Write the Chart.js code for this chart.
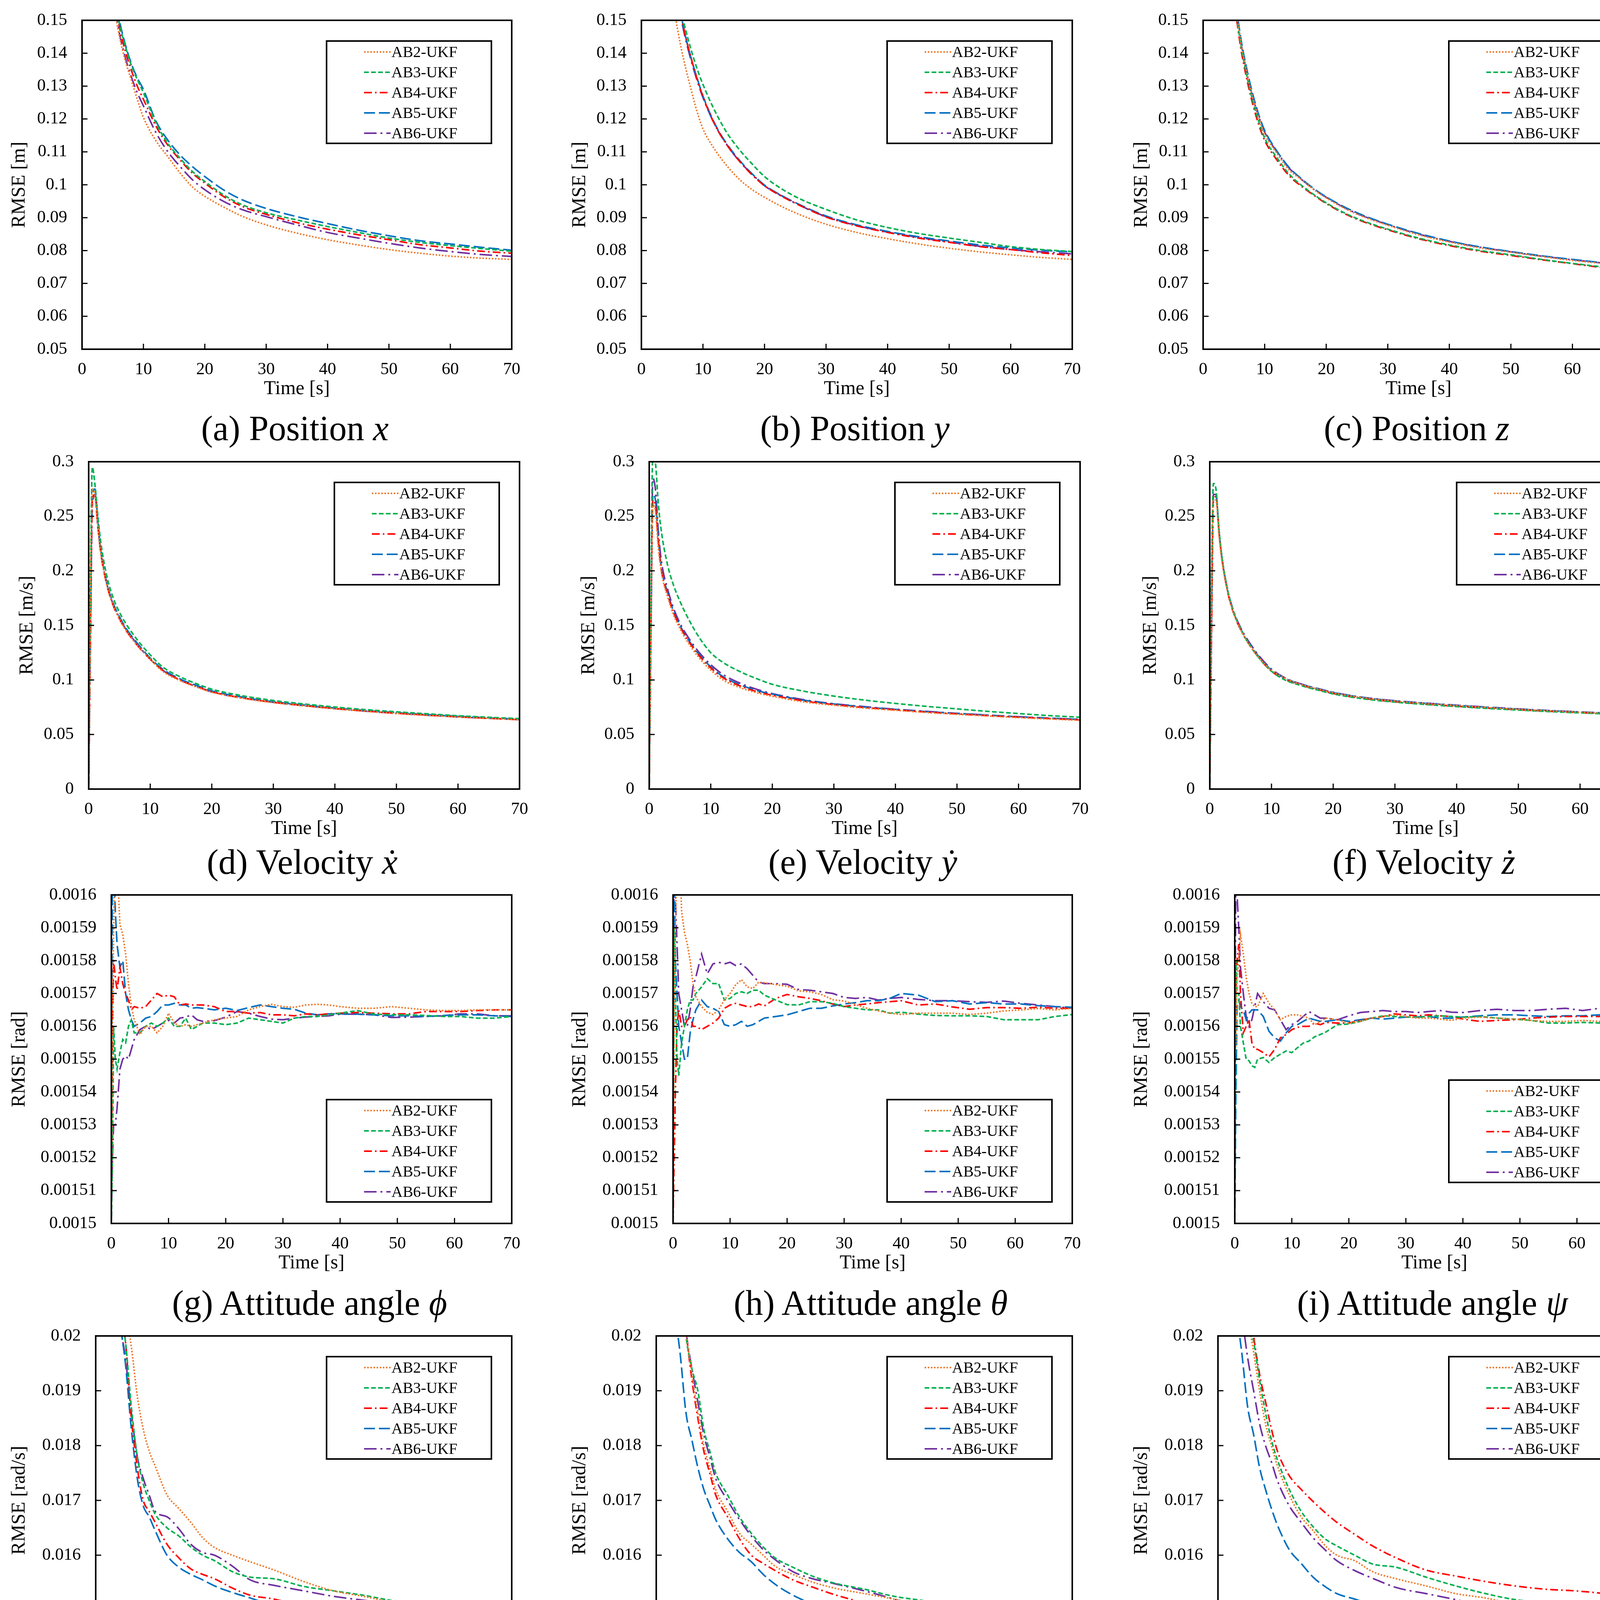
<!DOCTYPE html>
<html>
<head>
<meta charset="utf-8">
<script src="https://cdn.jsdelivr.net/npm/chart.js@4.4.0/dist/chart.umd.min.js"></script>
<style>
  html, body { margin: 0; padding: 0; background: #fff; }
  body { width: 4250px; height: 4571px; position: relative; overflow: hidden; }
  .panel { position: absolute; }
  .cap { position: absolute; font-family: 'Liberation Serif', serif; font-size: 90px; color: #000;
         white-space: nowrap; transform: translate(-50%, -50%); line-height: 1; }
</style>
</head>
<body>
<script>
// ---- time axes ----
const tPos  = [4, 5, 6, 7, 8, 9, 10, 12, 14, 16, 18, 20, 23, 26, 30, 35, 40, 45, 50, 55, 60, 65, 70];
const tVel  = [0, 0.3, 0.6, 1, 1.5, 2, 3, 4, 5, 6, 8, 10, 12, 15, 18, 20, 25, 30, 35, 40, 45, 50, 55, 60, 65, 70];
const tAtt  = [0, 0.2, 0.4, 0.7, 1, 1.5, 2, 2.5, 3, 3.5, 4, 5, 6, 7, 8, 9, 10, 11, 12, 13, 14, 15, 16,
               18, 20, 22, 24, 26, 28, 30, 32, 34, 36, 38, 40, 43, 46, 49, 52, 55, 58, 61, 64, 67, 70];
const tRate = [3, 4, 5, 6, 7, 8, 9, 10, 12, 14, 16, 18, 20, 23, 26, 30, 35, 40, 45, 50, 55, 60, 65, 70];

const xTicks = [0, 10, 20, 30, 40, 50, 60, 70];

// ---- (a) position x ----
const posX_AB2 = [0.175,0.157,0.146,0.138,0.132,0.126,0.1205,0.1135,0.1085,0.1035,0.0993,0.0965,0.0933,0.0905,0.0878,0.0853,0.0833,0.0817,0.0803,0.0792,0.0783,0.0777,0.0773];
const posX_AB3 = [0.184,0.164,0.150,0.1425,0.1365,0.132,0.128,0.119,0.1125,0.108,0.104,0.101,0.097,0.094,0.0915,0.0893,0.0873,0.0855,0.0838,0.0825,0.0815,0.0806,0.0798];
const posX_AB4 = [0.182,0.162,0.149,0.141,0.135,0.130,0.126,0.118,0.112,0.1075,0.1035,0.1005,0.0965,0.0935,0.091,0.0885,0.0865,0.0848,0.0833,0.0818,0.0808,0.0798,0.0792];
const posX_AB5 = [0.185,0.165,0.151,0.143,0.137,0.1325,0.129,0.1195,0.1135,0.109,0.1055,0.1025,0.0985,0.0955,0.0928,0.0903,0.0882,0.0862,0.0845,0.083,0.082,0.081,0.0801];
const posX_AB6 = [0.18,0.16,0.147,0.139,0.133,0.128,0.124,0.116,0.110,0.1055,0.1015,0.0985,0.095,0.0925,0.0903,0.0878,0.0855,0.0838,0.0822,0.0808,0.0797,0.0788,0.0782];

// ---- (b) position y ----
const posY_AB2 = [0.178,0.158,0.146,0.137,0.1295,0.1225,0.117,0.1105,0.1055,0.1015,0.0985,0.0962,0.0932,0.0907,0.088,0.0855,0.0836,0.082,0.0807,0.0796,0.0787,0.0779,0.0773];
const posY_AB3 = [0.2,0.175,0.157,0.1485,0.1415,0.1355,0.1305,0.1222,0.1155,0.1105,0.1063,0.1025,0.0985,0.0955,0.0925,0.0893,0.087,0.0852,0.0838,0.0825,0.0812,0.0803,0.0797];
const posY_AB4 = [0.19,0.168,0.156,0.1465,0.139,0.1325,0.1268,0.118,0.1118,0.107,0.103,0.0997,0.0963,0.0935,0.0902,0.0875,0.0855,0.0838,0.0825,0.0812,0.0803,0.0793,0.0785];
const posY_AB5 = [0.19,0.168,0.156,0.1465,0.139,0.1327,0.127,0.1183,0.1121,0.1073,0.1033,0.0999,0.0965,0.0937,0.0905,0.0878,0.0858,0.0842,0.0829,0.0817,0.0808,0.0801,0.0796];
const posY_AB6 = [0.189,0.167,0.155,0.1457,0.1383,0.132,0.1265,0.118,0.1119,0.107,0.1032,0.0997,0.0964,0.0935,0.0903,0.0876,0.0856,0.084,0.0826,0.0813,0.0803,0.0796,0.079];

// ---- (c) position z ----
const posZ_AB2 = [0.185,0.16,0.145,0.135,0.127,0.1205,0.1155,0.1095,0.1045,0.1015,0.0985,0.096,0.0928,0.0903,0.0877,0.0848,0.0826,0.0808,0.0795,0.0782,0.077,0.0761,0.0753];
const posZ_AB3 = [0.183,0.158,0.144,0.134,0.126,0.1195,0.1142,0.1082,0.1032,0.0998,0.097,0.0945,0.0914,0.089,0.0865,0.0838,0.0817,0.08,0.0787,0.0773,0.0761,0.075,0.0741];
const posZ_AB4 = [0.183,0.158,0.143,0.133,0.125,0.1185,0.1135,0.1075,0.1027,0.0995,0.0968,0.0943,0.0912,0.0888,0.0863,0.0836,0.0815,0.0798,0.0785,0.0772,0.076,0.0748,0.0739];
const posZ_AB5 = [0.186,0.161,0.146,0.136,0.128,0.1215,0.1165,0.1102,0.1052,0.1018,0.0988,0.0963,0.0932,0.0907,0.088,0.0852,0.0829,0.0811,0.0797,0.0784,0.0773,0.0763,0.0755];
const posZ_AB6 = [0.185,0.16,0.145,0.135,0.127,0.121,0.116,0.11,0.105,0.1016,0.0986,0.0962,0.093,0.0905,0.0879,0.085,0.0828,0.081,0.0796,0.0783,0.0772,0.0762,0.0754];

// ---- (d) velocity x ----
const velX_AB2 = [0,0.18,0.275,0.27,0.24,0.215,0.186,0.168,0.156,0.146,0.131,0.119,0.108,0.099,0.0925,0.0888,0.0832,0.0792,0.0762,0.0735,0.0712,0.0692,0.0675,0.066,0.0647,0.0635];
const velX_AB3 = [0,0.2,0.295,0.28,0.25,0.225,0.194,0.175,0.162,0.152,0.136,0.123,0.112,0.1025,0.0955,0.0915,0.0855,0.0812,0.078,0.0752,0.0728,0.0708,0.069,0.0672,0.0658,0.0645];
const velX_AB4 = [0,0.15,0.265,0.27,0.24,0.215,0.186,0.168,0.156,0.146,0.131,0.119,0.109,0.0995,0.093,0.0892,0.0835,0.0795,0.0765,0.0738,0.0715,0.0695,0.0678,0.0662,0.0649,0.0637];
const velX_AB5 = [0,0.16,0.27,0.275,0.245,0.218,0.188,0.17,0.158,0.148,0.133,0.12,0.11,0.1005,0.094,0.09,0.0842,0.08,0.077,0.0742,0.072,0.07,0.0682,0.0667,0.0653,0.0641];
const velX_AB6 = [0,0.14,0.26,0.27,0.24,0.216,0.187,0.169,0.157,0.147,0.132,0.119,0.109,0.0995,0.093,0.089,0.0835,0.0795,0.0764,0.0737,0.0714,0.0694,0.0677,0.0661,0.0648,0.0636];

// ---- (e) velocity y ----
const velY_AB2 = [0,0.17,0.26,0.255,0.22,0.198,0.176,0.159,0.147,0.137,0.121,0.109,0.1,0.0925,0.0875,0.085,0.08,0.0768,0.0742,0.0722,0.0702,0.0685,0.067,0.0655,0.0642,0.063];
const velY_AB3 = [0,0.2,0.31,0.3,0.26,0.235,0.205,0.186,0.172,0.16,0.14,0.125,0.116,0.107,0.1,0.096,0.0898,0.0852,0.0815,0.0785,0.0758,0.0735,0.0712,0.0692,0.0673,0.0658];
const velY_AB4 = [0,0.16,0.265,0.26,0.225,0.2,0.178,0.161,0.149,0.139,0.123,0.111,0.102,0.094,0.0885,0.086,0.0808,0.0774,0.0747,0.0726,0.0706,0.0689,0.0673,0.0659,0.0646,0.0634];
const velY_AB5 = [0,0.15,0.27,0.265,0.228,0.202,0.18,0.162,0.15,0.14,0.124,0.112,0.103,0.095,0.0895,0.087,0.0815,0.078,0.0752,0.073,0.071,0.0693,0.0677,0.0662,0.065,0.0638];
const velY_AB6 = [0,0.18,0.285,0.275,0.235,0.208,0.183,0.165,0.152,0.142,0.126,0.114,0.105,0.0965,0.0905,0.0875,0.082,0.0782,0.0755,0.0732,0.0712,0.0694,0.0678,0.0663,0.065,0.0638];

// ---- (f) velocity z ----
const velZ_AB2 = [0,0.18,0.265,0.265,0.232,0.208,0.178,0.159,0.146,0.136,0.12,0.109,0.102,0.0955,0.091,0.0882,0.0836,0.0806,0.0784,0.0765,0.0747,0.0731,0.0717,0.0704,0.0692,0.068];
const velZ_AB3 = [0,0.2,0.28,0.275,0.238,0.212,0.18,0.16,0.147,0.136,0.12,0.108,0.1005,0.0945,0.09,0.0872,0.0826,0.0797,0.0775,0.0756,0.0739,0.0724,0.071,0.0698,0.0687,0.0676];
const velZ_AB4 = [0,0.15,0.265,0.268,0.235,0.21,0.178,0.159,0.146,0.136,0.12,0.108,0.101,0.095,0.0905,0.0876,0.083,0.08,0.0778,0.0759,0.0742,0.0727,0.0713,0.07,0.0689,0.0678];
const velZ_AB5 = [0,0.16,0.27,0.27,0.236,0.21,0.179,0.16,0.147,0.137,0.121,0.109,0.102,0.0958,0.0913,0.0885,0.0838,0.0808,0.0786,0.0767,0.0749,0.0733,0.0719,0.0706,0.0694,0.0682];
const velZ_AB6 = [0,0.17,0.27,0.27,0.236,0.211,0.18,0.161,0.148,0.138,0.122,0.11,0.1025,0.096,0.0915,0.0887,0.084,0.081,0.0788,0.0769,0.0751,0.0735,0.072,0.0707,0.0695,0.0683];

// ---- (g) attitude phi ----
const phi_AB2 = [0.0015,0.00156,0.00159,0.00162,0.00161,0.001591,0.001588,0.001582,0.001573,0.001566,
  0.001562,0.0015575,0.00156,0.00156,0.001558,0.00156,0.001564,0.001561,0.00156,0.0015605,0.00156,0.0015605,0.001561,
  0.001562,0.0015625,0.001563,0.001565,0.001566,0.0015667,0.001566,0.0015658,0.0015665,0.0015667,0.0015665,0.001566,
  0.0015655,0.0015655,0.001566,0.0015655,0.001565,0.0015648,0.0015648,0.001565,0.001565,0.001565];
const phi_AB3 = [0.0015,0.00152,0.00156,0.00155,0.001547,0.001552,0.001556,0.001555,0.00156,0.001562,
  0.001558,0.001558,0.00156,0.001561,0.00156,0.001561,0.0015625,0.00156,0.00156,0.0015625,0.001559,0.00156,0.001561,
  0.001561,0.0015605,0.001561,0.0015625,0.001562,0.0015615,0.001561,0.0015625,0.001563,0.001563,0.0015635,0.001564,
  0.0015648,0.0015637,0.0015635,0.0015635,0.0015633,0.001563,0.001563,0.0015625,0.0015625,0.001563];
const phi_AB4 = [0.00151,0.00156,0.00158,0.001575,0.001571,0.001578,0.001573,0.00157,0.001568,0.001565,
  0.001566,0.0015655,0.001566,0.001568,0.00157,0.001569,0.0015695,0.001569,0.0015665,0.0015668,0.0015665,0.0015665,0.0015665,
  0.001566,0.0015645,0.0015645,0.001564,0.0015642,0.0015635,0.0015635,0.0015632,0.0015638,0.0015635,0.0015638,0.001564,
  0.0015642,0.001564,0.0015638,0.0015638,0.0015645,0.0015645,0.0015645,0.0015648,0.001565,0.001565];
const phi_AB5 = [0.00152,0.00162,0.00161,0.001595,0.001585,0.001578,0.00158,0.00157,0.001565,0.001562,
  0.00156,0.001561,0.0015625,0.001563,0.0015645,0.0015665,0.0015665,0.001567,0.0015665,0.0015665,0.0015655,0.0015657,0.0015655,
  0.001565,0.0015655,0.0015648,0.0015657,0.0015665,0.001566,0.0015655,0.0015652,0.001564,0.0015635,0.0015638,0.0015638,
  0.0015637,0.0015635,0.0015632,0.0015632,0.001563,0.0015633,0.0015635,0.0015635,0.0015632,0.001563];
const phi_AB6 = [0.0015,0.00152,0.00153,0.00153,0.001535,0.001547,0.00155,0.001551,0.00155,0.001553,
  0.001556,0.001559,0.00156,0.001559,0.00156,0.001561,0.0015618,0.001561,0.0015625,0.0015628,0.0015635,0.001562,0.0015615,
  0.0015617,0.0015628,0.0015645,0.001564,0.001563,0.0015622,0.001562,0.0015625,0.0015628,0.001563,0.0015632,0.0015637,
  0.0015637,0.0015635,0.0015627,0.0015628,0.001563,0.0015632,0.0015638,0.0015638,0.0015632,0.0015632];

// ---- (h) attitude theta ----
const theta_AB2 = [0.0015,0.00156,0.00159,0.00161,0.00162,0.001595,0.0015886,0.001585,0.00158,0.001573,
  0.001569,0.001566,0.0015643,0.0015636,0.001565,0.0015681,0.00157,0.0015727,0.0015742,0.001572,0.0015715,0.0015734,0.0015733,
  0.0015727,0.0015722,0.0015708,0.0015705,0.0015697,0.0015681,0.0015677,0.0015666,0.0015655,0.0015647,0.001564,0.0015636,
  0.001564,0.001564,0.001564,0.0015636,0.001564,0.0015647,0.001565,0.0015654,0.001565,0.0015655];
const theta_AB3 = [0.0015,0.00159,0.00157,0.00155,0.001545,0.001555,0.00156,0.001565,0.001568,0.001568,
  0.00157,0.001572,0.0015745,0.001573,0.001573,0.001568,0.0015685,0.00157,0.0015705,0.00157,0.001571,0.001571,0.0015695,
  0.001568,0.0015666,0.0015665,0.0015675,0.0015675,0.001567,0.001566,0.0015655,0.001565,0.001565,0.001564,0.0015643,
  0.0015637,0.0015633,0.0015632,0.0015632,0.001563,0.001562,0.001562,0.001562,0.001563,0.0015636];
const theta_AB4 = [0.0015,0.00152,0.00154,0.00156,0.001565,0.00156,0.00156,0.001562,0.001563,0.00156,
  0.00156,0.001559,0.00156,0.001561,0.0015625,0.0015655,0.0015665,0.001567,0.0015665,0.001566,0.001566,0.0015668,0.0015662,
  0.0015685,0.0015697,0.001569,0.0015685,0.0015678,0.0015668,0.001566,0.0015665,0.0015668,0.0015672,0.0015675,0.0015678,
  0.0015665,0.0015668,0.0015659,0.0015652,0.0015657,0.0015657,0.0015655,0.0015658,0.0015655,0.0015655];
const theta_AB5 = [0.0015,0.00161,0.00158,0.00157,0.00156,0.001555,0.00155,0.00155,0.001558,0.001562,
  0.001565,0.001568,0.001566,0.0015655,0.0015645,0.0015605,0.00156,0.0015605,0.0015615,0.00156,0.0015605,0.0015615,0.0015625,
  0.001563,0.0015635,0.0015645,0.0015655,0.0015655,0.0015662,0.0015668,0.0015672,0.0015678,0.0015678,0.0015685,0.00157,
  0.0015695,0.0015675,0.0015678,0.0015668,0.0015672,0.0015668,0.0015668,0.0015663,0.001566,0.0015658];
const theta_AB6 = [0.0015,0.00162,0.0016,0.001585,0.00157,0.001565,0.00156,0.00156,0.001565,0.001572,
  0.001575,0.001582,0.001576,0.001579,0.0015795,0.001579,0.0015795,0.0015785,0.001579,0.0015775,0.0015755,0.0015735,0.001573,
  0.001573,0.0015728,0.0015712,0.001571,0.0015705,0.00157,0.0015688,0.0015685,0.0015688,0.001568,0.0015685,0.0015688,
  0.0015682,0.0015678,0.0015678,0.0015675,0.0015673,0.0015677,0.001567,0.0015665,0.001566,0.0015655];

// ---- (i) attitude psi ----
const psi_AB2 = [0.00155,0.001555,0.001575,0.00158,0.001588,0.001582,0.001575,0.00157,0.001567,0.001566,
  0.001566,0.00157,0.001567,0.001565,0.001562,0.001563,0.0015635,0.0015635,0.001563,0.0015625,0.0015605,0.0015615,0.0015625,
  0.001562,0.001561,0.0015615,0.0015625,0.001563,0.0015635,0.001563,0.0015625,0.0015625,0.0015622,0.0015618,0.0015625,
  0.0015628,0.0015625,0.0015622,0.0015618,0.0015615,0.0015615,0.0015618,0.0015615,0.0015615,0.0015615];
const psi_AB3 = [0.0015,0.00158,0.00157,0.00157,0.00156,0.001555,0.00155,0.0015495,0.001548,0.0015475,
  0.00155,0.0015505,0.001549,0.0015505,0.0015515,0.0015525,0.001552,0.0015535,0.0015549,0.0015555,0.0015568,0.0015575,0.0015583,
  0.0015605,0.0015607,0.0015615,0.0015625,0.0015632,0.001563,0.0015628,0.0015628,0.001563,0.0015632,0.001563,0.0015628,
  0.001563,0.0015625,0.0015622,0.0015618,0.001561,0.001561,0.0015612,0.001561,0.0015608,0.0015617];
const psi_AB4 = [0.00155,0.00157,0.00158,0.001585,0.00157,0.001558,0.00156,0.001562,0.001555,0.001553,
  0.001553,0.001552,0.0015507,0.001553,0.0015565,0.0015575,0.001559,0.0015597,0.00156,0.00156,0.001561,0.0015605,0.0015612,
  0.001561,0.001561,0.0015618,0.0015625,0.001563,0.0015638,0.0015635,0.0015632,0.0015635,0.0015632,0.001563,0.0015622,
  0.0015615,0.0015618,0.001562,0.0015625,0.0015628,0.001563,0.001563,0.001563,0.0015632,0.0015638];
const psi_AB5 = [0.0015,0.00154,0.001567,0.001568,0.001566,0.001565,0.001562,0.001564,0.001565,0.001565,
  0.001565,0.001563,0.0015585,0.0015565,0.0015555,0.001558,0.00156,0.0015605,0.0015615,0.0015625,0.001562,0.0015615,0.0015615,
  0.001562,0.0015615,0.001562,0.0015625,0.0015622,0.0015625,0.0015628,0.0015628,0.001563,0.0015625,0.0015625,0.0015628,
  0.0015632,0.0015635,0.0015635,0.0015632,0.001563,0.0015632,0.0015632,0.0015635,0.0015637,0.001564];
const psi_AB6 = [0.00154,0.00161,0.0016,0.00159,0.001578,0.00157,0.001563,0.00156,0.001562,0.001566,
  0.00157,0.0015675,0.0015655,0.001565,0.001562,0.001559,0.0015605,0.0015615,0.001563,0.0015645,0.0015635,0.0015625,0.0015625,
  0.001562,0.0015632,0.0015642,0.0015645,0.0015648,0.0015645,0.0015645,0.0015642,0.0015645,0.0015648,0.0015643,0.0015642,
  0.0015648,0.0015652,0.0015648,0.0015648,0.0015652,0.0015655,0.0015648,0.0015655,0.001565,0.001565];

// ---- (j) angular velocity phi ----
const dphi_AB2 = [0.0225,0.0215,0.0205,0.0198,0.0189,0.0183,0.0179,0.01763,0.0171,0.01685,0.0166,0.01632,0.01614,0.016,0.01588,0.01573,0.01552,0.01535,0.01525,0.01514,0.01503,0.01495,0.0149,0.01487];
const dphi_AB3 = [0.0215,0.0205,0.0199,0.0187,0.0178,0.0173,0.017,0.01675,0.0165,0.01635,0.01615,0.016,0.0159,0.0157,0.0156,0.01557,0.01543,0.01535,0.01527,0.01517,0.0151,0.01506,0.01502,0.01499];
const dphi_AB4 = [0.0215,0.0205,0.0199,0.0185,0.0176,0.017,0.0168,0.0166,0.0162,0.01595,0.01575,0.01565,0.01557,0.0154,0.01527,0.0152,0.01506,0.01497,0.01492,0.01488,0.01481,0.01476,0.0147,0.01465];
const dphi_AB5 = [0.0212,0.0203,0.0195,0.0183,0.0174,0.0169,0.0167,0.01645,0.016,0.01578,0.01565,0.01555,0.01544,0.01532,0.01522,0.01508,0.01498,0.01487,0.01479,0.01473,0.01468,0.01464,0.01461,0.01458];
const dphi_AB6 = [0.0215,0.0203,0.0196,0.0186,0.0178,0.0174,0.0171,0.0168,0.0167,0.01648,0.0162,0.01605,0.016,0.0158,0.01555,0.01545,0.01535,0.01525,0.01518,0.01512,0.01505,0.015,0.01492,0.01485];

// ---- (k) angular velocity theta ----
const dtheta_AB2 = [0.0225,0.0212,0.0201,0.0193,0.0186,0.018,0.0176,0.0172,0.0168,0.0164,0.0162,0.016,0.0158,0.01565,0.01552,0.0154,0.0153,0.0152,0.0151,0.01507,0.01502,0.01498,0.01492,0.01488];
const dtheta_AB3 = [0.0225,0.0212,0.02,0.0194,0.019,0.0183,0.0179,0.0175,0.0171,0.0167,0.0164,0.01615,0.01595,0.01578,0.01563,0.01549,0.01538,0.01525,0.01517,0.01507,0.0151,0.01503,0.01498,0.01491];
const dtheta_AB4 = [0.0225,0.0212,0.0201,0.0192,0.0185,0.0179,0.0175,0.0171,0.0167,0.0163,0.016,0.01585,0.01572,0.01555,0.01543,0.01528,0.01513,0.01499,0.01491,0.01486,0.0148,0.01475,0.01473,0.01472];
const dtheta_AB5 = [0.0205,0.0197,0.0186,0.0181,0.0176,0.0172,0.01692,0.01665,0.0163,0.01605,0.01588,0.01565,0.01547,0.01527,0.01512,0.01494,0.01482,0.0147,0.01465,0.01462,0.01457,0.01451,0.01446,0.01443];
const dtheta_AB6 = [0.0225,0.0212,0.0201,0.0194,0.0188,0.0182,0.0178,0.0174,0.017,0.01665,0.01635,0.0161,0.01592,0.0157,0.01558,0.01548,0.01535,0.0152,0.01503,0.01498,0.01495,0.01492,0.01487,0.01481];

// ---- (l) angular velocity psi ----
const dpsi_AB2 = [0.0225,0.0213,0.0204,0.0197,0.019,0.0184,0.018,0.01763,0.0171,0.0167,0.01645,0.01618,0.016,0.0159,0.0157,0.01557,0.01544,0.0153,0.01522,0.01511,0.01506,0.015,0.01497,0.01492];
const dpsi_AB3 = [0.0225,0.0214,0.0204,0.0199,0.0192,0.0186,0.0181,0.01774,0.0172,0.0168,0.01652,0.0163,0.01617,0.016,0.01584,0.01578,0.0156,0.01544,0.0153,0.01519,0.01514,0.01506,0.015,0.01492];
const dpsi_AB4 = [0.0228,0.0218,0.0209,0.02,0.0193,0.0188,0.0183,0.0179,0.01745,0.0172,0.01698,0.01678,0.0166,0.01638,0.01617,0.01595,0.01573,0.01562,0.01552,0.01544,0.01538,0.01535,0.0153,0.01522];
const dpsi_AB5 = [0.0205,0.0197,0.0187,0.0182,0.0176,0.0172,0.01685,0.01655,0.0161,0.01585,0.0156,0.01543,0.0153,0.0152,0.0151,0.01498,0.01487,0.01476,0.0147,0.01467,0.01462,0.01457,0.01454,0.01451];
const dpsi_AB6 = [0.0212,0.0204,0.0196,0.019,0.0184,0.018,0.0177,0.01736,0.0169,0.0166,0.01632,0.0161,0.0159,0.01572,0.01558,0.01541,0.0153,0.01519,0.01508,0.015,0.01497,0.01494,0.01489,0.01485];

const names  = ['AB2-UKF', 'AB3-UKF', 'AB4-UKF', 'AB5-UKF', 'AB6-UKF'];
const colors = ['#ED7D31', '#00B050', '#FF0000', '#0070C0', '#7030A0'];
const dashes = [[4, 4], [12, 6], [20, 8, 4, 8], [28, 10], [32, 10, 5, 10]];

const FONT = "'Liberation Serif', 'Times New Roman', serif";

// frame, inward tick marks and boxed legend
const framePlugin = {
  id: 'frame',
  afterDraw(chart, args, opts) {
    const { ctx, chartArea: a, scales: { x, y } } = chart;
    ctx.save();
    ctx.setLineDash([]);
    ctx.strokeStyle = '#000';
    ctx.lineWidth = 3;
    ctx.beginPath();
    x.ticks.forEach(t => {
      const px = x.getPixelForValue(t.value);
      ctx.moveTo(px, a.bottom); ctx.lineTo(px, a.bottom - 14);
    });
    y.ticks.forEach(t => {
      const py = y.getPixelForValue(t.value);
      ctx.moveTo(a.left, py); ctx.lineTo(a.left + 14, py);
    });
    ctx.stroke();
    ctx.lineWidth = 4;
    ctx.strokeRect(a.left, a.top, a.right - a.left, a.bottom - a.top);

    const bw = 422, bh = 262;
    const bx = a.right - 52 - bw;
    const by = opts.bottom != null ? a.bottom - opts.bottom - bh : a.top + opts.top;
    ctx.fillStyle = '#fff';
    ctx.fillRect(bx, by, bw, bh);
    ctx.lineWidth = 4;
    ctx.strokeRect(bx, by, bw, bh);
    ctx.font = '40px ' + FONT;
    ctx.textBaseline = 'middle';
    chart.data.datasets.forEach((ds, i) => {
      const cy = by + 28 + i * 52;
      ctx.strokeStyle = ds.borderColor;
      ctx.lineWidth = ds.borderWidth;
      ctx.setLineDash(ds.borderDash);
      ctx.beginPath(); ctx.moveTo(bx + 96, cy); ctx.lineTo(bx + 164, cy); ctx.stroke();
      ctx.setLineDash([]);
      ctx.fillStyle = '#000';
      ctx.fillText(ds.label, bx + 166, cy + 2);
    });
    ctx.restore();
  }
};

function fmt(v) { return String(Math.round(v * 1e8) / 1e8); }

const panels = [
  { t: tPos, s: [posX_AB2, posX_AB3, posX_AB4, posX_AB5, posX_AB6], y: [0.05, 0.15, 0.01], title: 'RMSE [m]',
    box: [210, 52, 1310, 894], left: 0, legend: { top: 53 }, smooth: true, cap: '(a) Position <i>x</i>', capY: 1097 },
  { t: tPos, s: [posY_AB2, posY_AB3, posY_AB4, posY_AB5, posY_AB6], y: [0.05, 0.15, 0.01], title: 'RMSE [m]',
    box: [1642, 52, 2745, 894], left: 1435, legend: { top: 53 }, smooth: true, cap: '(b) Position <i>y</i>', capY: 1097 },
  { t: tPos, s: [posZ_AB2, posZ_AB3, posZ_AB4, posZ_AB5, posZ_AB6], y: [0.05, 0.15, 0.01], title: 'RMSE [m]',
    box: [3080, 52, 4183, 894], left: 2873, legend: { top: 53 }, smooth: true, cap: '(c) Position <i>z</i>', capY: 1097 },

  { t: tVel, s: [velX_AB2, velX_AB3, velX_AB4, velX_AB5, velX_AB6], y: [0, 0.3, 0.05], title: 'RMSE [m/s]',
    box: [227, 1182, 1330, 2020], left: 20, legend: { top: 53 }, smooth: true, cap: '(d) Velocity <i>ẋ</i>', capY: 2207 },
  { t: tVel, s: [velY_AB2, velY_AB3, velY_AB4, velY_AB5, velY_AB6], y: [0, 0.3, 0.05], title: 'RMSE [m/s]',
    box: [1662, 1182, 2765, 2020], left: 1458, legend: { top: 53 }, smooth: true, cap: '(e) Velocity <i>ẏ</i>', capY: 2207 },
  { t: tVel, s: [velZ_AB2, velZ_AB3, velZ_AB4, velZ_AB5, velZ_AB6], y: [0, 0.3, 0.05], title: 'RMSE [m/s]',
    box: [3097, 1182, 4203, 2020], left: 2896, legend: { top: 53 }, smooth: true, cap: '(f) Velocity <i>ż</i>', capY: 2207 },

  { t: tAtt, s: [phi_AB2, phi_AB3, phi_AB4, phi_AB5, phi_AB6], y: [0.0015, 0.0016, 0.00001], title: 'RMSE [rad]',
    box: [285, 2291, 1310, 3132], left: 0, legend: { bottom: 55 }, smooth: false, cap: '(g) Attitude angle <i>ϕ</i>', capY: 3336 },
  { t: tAtt, s: [theta_AB2, theta_AB3, theta_AB4, theta_AB5, theta_AB6], y: [0.0015, 0.0016, 0.00001], title: 'RMSE [rad]',
    box: [1723, 2291, 2745, 3132], left: 1435, legend: { bottom: 55 }, smooth: false, cap: '(h) Attitude angle <i>θ</i>', capY: 3336 },
  { t: tAtt, s: [psi_AB2, psi_AB3, psi_AB4, psi_AB5, psi_AB6], y: [0.0015, 0.0016, 0.00001], title: 'RMSE [rad]',
    box: [3161, 2291, 4183, 3132], left: 2873, legend: { bottom: 105 }, smooth: false, cap: '(i) Attitude angle <i>ψ</i>', capY: 3336 },

  { t: tRate, s: [dphi_AB2, dphi_AB3, dphi_AB4, dphi_AB5, dphi_AB6], y: [0.014, 0.02, 0.001], title: 'RMSE [rad/s]',
    box: [245, 3420, 1310, 4262], left: 0, legend: { top: 53 }, smooth: true, cap: '(j) Attitude angular velocity <i>ϕ̇</i>', capY: 4483 },
  { t: tRate, s: [dtheta_AB2, dtheta_AB3, dtheta_AB4, dtheta_AB5, dtheta_AB6], y: [0.014, 0.02, 0.001], title: 'RMSE [rad/s]',
    box: [1680, 3420, 2745, 4262], left: 1435, legend: { top: 53 }, smooth: true, cap: '(k) Attitude angular velocity <i>θ̇</i>', capY: 4483 },
  { t: tRate, s: [dpsi_AB2, dpsi_AB3, dpsi_AB4, dpsi_AB5, dpsi_AB6], y: [0.014, 0.02, 0.001], title: 'RMSE [rad/s]',
    box: [3118, 3420, 4183, 4262], left: 2873, legend: { top: 53 }, smooth: true, cap: '(l) Attitude angular velocity <i>ψ̇</i>', capY: 4483 }
];

const PAD_TOP = 40, PAD_RIGHT = 60, X_AXIS_H = 150;

panels.forEach(p => {
  const [bl, bt, br, bb] = p.box;
  const w = br + PAD_RIGHT - p.left;
  const h = PAD_TOP + (bb - bt) + X_AXIS_H;
  const div = document.createElement('div');
  div.className = 'panel';
  div.style.left = p.left + 'px';
  div.style.top = (bt - PAD_TOP) + 'px';
  div.style.width = w + 'px';
  div.style.height = h + 'px';
  const cv = document.createElement('canvas');
  div.appendChild(cv);
  document.body.appendChild(div);

  const cap = document.createElement('div');
  cap.className = 'cap';
  cap.innerHTML = p.cap;
  cap.style.left = ((bl + br) / 2 - 5) + 'px';
  cap.style.top = p.capY + 'px';
  document.body.appendChild(cap);

  const yAxisW = bl - p.left;

  new Chart(cv, {
    type: 'line',
    data: {
      datasets: p.s.map((vals, i) => ({
        label: names[i],
        data: p.t.map((t, k) => ({ x: t, y: vals[k] })),
        borderColor: colors[i],
        borderDash: dashes[i],
        borderWidth: 4,
        pointRadius: 0,
        fill: false,
        cubicInterpolationMode: p.smooth ? 'monotone' : 'default',
        tension: 0
      }))
    },
    options: {
      responsive: true,
      maintainAspectRatio: false,
      animation: false,
      devicePixelRatio: 1,
      layout: { padding: { top: PAD_TOP, right: PAD_RIGHT, left: 0, bottom: 0 } },
      plugins: {
        legend: { display: false },
        tooltip: { enabled: false },
        frame: p.legend
      },
      scales: {
        x: {
          type: 'linear', min: 0, max: 70,
          afterBuildTicks: s => { s.ticks = xTicks.map(v => ({ value: v })); },
          ticks: { font: { family: FONT, size: 44 }, color: '#000', padding: 26, maxRotation: 0, autoSkip: false },
          grid: { display: false, drawTicks: false },
          border: { display: false },
          title: { display: true, text: 'Time [s]', color: '#000', font: { family: FONT, size: 50 }, padding: { top: 0, bottom: 18 } },
          afterFit: s => { s.height = X_AXIS_H; s.paddingLeft = 0; s.paddingRight = 0; s.paddingTop = 0; s.paddingBottom = 0; }
        },
        y: {
          type: 'linear', min: p.y[0], max: p.y[1],
          ticks: { stepSize: p.y[2], font: { family: FONT, size: 44 }, color: '#000', padding: 38, callback: fmt, autoSkip: false },
          grid: { display: false, drawTicks: false },
          border: { display: false },
          title: { display: true, text: p.title, color: '#000', font: { family: FONT, size: 50 }, padding: { top: 20, bottom: 0 } },
          afterFit: s => { s.width = yAxisW; s.paddingLeft = 0; s.paddingRight = 0; s.paddingTop = 0; s.paddingBottom = 0; }
        }
      }
    },
    plugins: [framePlugin]
  });
});
</script>
</body>
</html>
